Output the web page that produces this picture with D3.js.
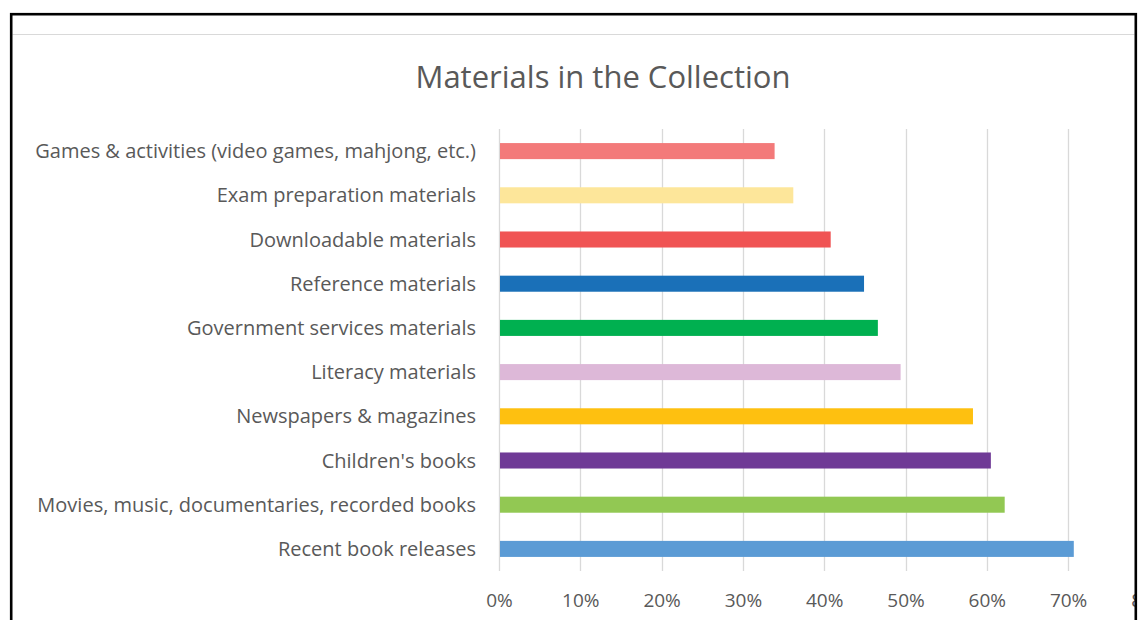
<!DOCTYPE html>
<html>
<head>
<meta charset="utf-8">
<script src="https://cdn.jsdelivr.net/npm/d3@7"></script>
<style>
  html, body { margin: 0; padding: 0; background: #ffffff; }
  svg { display: block; }
  text { font-family: "Open Sans", "Noto Sans", sans-serif; fill: #595959; }
</style>
</head>
<body>
<svg id="chart" width="1146" height="620"></svg>
<script>
const categories = [
  "Games & activities (video games, mahjong, etc.)",
  "Exam preparation materials",
  "Downloadable materials",
  "Reference materials",
  "Government services materials",
  "Literacy materials",
  "Newspapers & magazines",
  "Children's books",
  "Movies, music, documentaries, recorded books",
  "Recent book releases"
];
const values = [0.339, 0.362, 0.408, 0.449, 0.466, 0.494, 0.583, 0.605, 0.622, 0.707];
const barColors = ["#F37A7A", "#FDE69A", "#F05454", "#1A70B8", "#00B050", "#DDB8D8", "#FEC010", "#6F3A96", "#92C853", "#5B9BD5"];
const tickValues = [0, 0.1, 0.2, 0.3, 0.4, 0.5, 0.6, 0.7, 0.8];
const title = "Materials in the Collection";

const svg = d3.select("#chart");

svg.append("defs").append("clipPath").attr("id", "frameClip")
  .append("rect").attr("x", 0).attr("y", 0).attr("width", 1136).attr("height", 620);

// outer frame background
svg.append("rect").attr("x", 11.2).attr("y", 14.2).attr("width", 1124.6).attr("height", 700)
  .attr("fill", "#fff");

const inner = svg.append("g").attr("clip-path", "url(#frameClip)");

inner.append("line").attr("x1", 12.5).attr("x2", 1134.5).attr("y1", 34.5).attr("y2", 34.5)
  .attr("stroke", "#d9d9d9").attr("stroke-width", 1.2);

// title
inner.append("text").attr("x", 603).attr("y", 88).attr("text-anchor", "middle")
  .style("font-size", "31px").text(title);

const plot = { left: 499, top: 129, bottom: 571 };
const x = d3.scaleLinear().domain([0, 0.8]).range([plot.left, plot.left + 8 * 81.3]);
const y = d3.scaleBand().domain(categories).range([plot.top, plot.bottom]).paddingInner(0.637).paddingOuter(0.3185);

// gridlines
inner.append("g").selectAll("line").data(tickValues).join("line")
  .attr("x1", d => Math.round(x(d)) + 0.5).attr("x2", d => Math.round(x(d)) + 0.5)
  .attr("y1", plot.top).attr("y2", plot.bottom)
  .attr("stroke", "#d9d9d9").attr("stroke-width", 1.3);

// bars
inner.append("g").selectAll("rect").data(categories).join("rect")
  .attr("x", x(0) + 1).attr("y", d => y(d))
  .attr("width", (d, i) => x(values[i]) - x(0) - 1)
  .attr("height", y.bandwidth())
  .attr("fill", (d, i) => barColors[i]);

// x axis labels
const xAxis = d3.axisBottom(x).tickValues(tickValues).tickFormat(d3.format(".0%")).tickSize(0).tickPadding(0);
const gx = inner.append("g").attr("transform", `translate(0, 600)`).call(xAxis);
gx.select(".domain").remove();
gx.selectAll("text").style("font-size", "19px").attr("dy", "0.36em").style("fill", "#595959").style("font-family", "'Open Sans', sans-serif");

// y axis labels
const yAxis = d3.axisLeft(y).tickSize(0).tickPadding(0);
const gy = inner.append("g").attr("transform", `translate(476, 0)`).call(yAxis);
gy.select(".domain").remove();
gy.selectAll("text").style("font-size", "20px").attr("dy", "0.35em").style("fill", "#595959").style("font-family", "'Open Sans', sans-serif");

// frame border on top
svg.append("rect").attr("x", 11.2).attr("y", 14.2).attr("width", 1124.6).attr("height", 700)
  .attr("fill", "none").attr("stroke", "#000").attr("stroke-width", 2.6);
</script>
</body>
</html>
